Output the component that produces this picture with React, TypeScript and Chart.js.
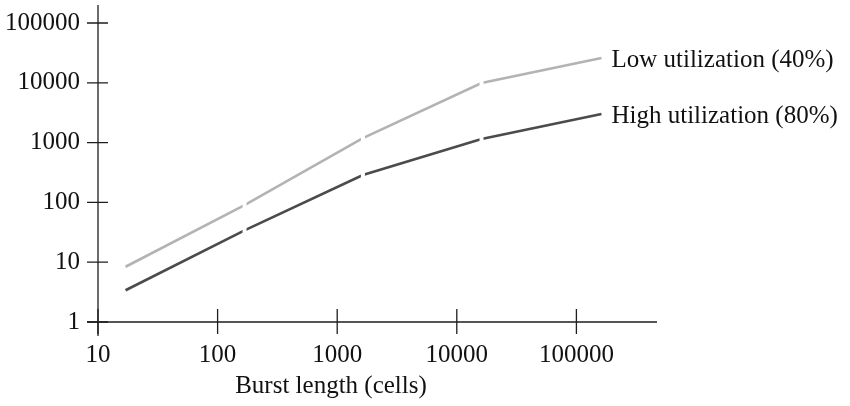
import React, { useEffect, useRef } from "react";
import { Chart, registerables } from "chart.js";

Chart.register(...registerables);

const burstLengths = [17, 168, 1640, 16100, 162000];
const lowUtilization = [8.4, 90, 1190, 9900, 26000];
const highUtilization = [3.4, 34, 287, 1150, 3000];
const xTicks = [10, 100, 1000, 10000, 100000];
const yTicks = [1, 10, 100, 1000, 10000, 100000];
const seriesLabels = ["Low utilization (40%)", "High utilization (80%)"];
const xTitle = "Burst length (cells)";

const FONT = '"Liberation Serif", "Times New Roman", serif';
const FONT_SIZE = 25;
const TEXT = "#111111";
const AXIS = "#1e1e1e";
const LOW_COLOR = "#b3b3b3";
const HIGH_COLOR = "#4b4b4b";

const decorPlugin = {
  id: "decor",
  afterDraw(chart: any) {
    const { ctx, chartArea, scales } = chart;
    const xs = scales.x;
    const ys = scales.y;
    const left = chartArea.left;
    const bottom = chartArea.bottom;
    ctx.save();
    ctx.strokeStyle = AXIS;
    ctx.lineWidth = 1.3;
    // axis lines
    ctx.beginPath();
    ctx.moveTo(left, chartArea.top);
    ctx.lineTo(left, bottom + 14);
    ctx.moveTo(left - 11, bottom);
    ctx.lineTo(chartArea.right, bottom);
    ctx.stroke();
    // y ticks (crossing)
    ctx.beginPath();
    yTicks.forEach((v) => {
      const py = ys.getPixelForValue(v);
      ctx.moveTo(left - 11, py);
      ctx.lineTo(left + 10, py);
    });
    // x ticks (crossing)
    xTicks.forEach((v) => {
      const px = xs.getPixelForValue(v);
      ctx.moveTo(px, bottom - 13);
      ctx.lineTo(px, bottom + 12);
    });
    ctx.stroke();

    // x title
    ctx.fillStyle = TEXT;
    ctx.font = `${FONT_SIZE}px ${FONT}`;
    ctx.textAlign = "center";
    ctx.textBaseline = "middle";
    ctx.fillText(xTitle, left + 233, bottom + 64);

    // series end labels
    ctx.textAlign = "left";
    chart.data.datasets.forEach((ds: any, i: number) => {
      const meta = chart.getDatasetMeta(i);
      const pt = meta.data[meta.data.length - 1];
      ctx.fillText(seriesLabels[i], pt.x + 10, pt.y + 2);
    });
    ctx.restore();
  },
};

export default function App() {
  const ref = useRef<HTMLCanvasElement | null>(null);

  useEffect(() => {
    document.body.style.margin = "0";
    const canvas = ref.current;
    if (!canvas) return;
    const cut = [0, 4, 4, 4, 0];
    const chart = new Chart(canvas, {
      type: "line",
      data: {
        datasets: [
          {
            label: seriesLabels[0],
            data: burstLengths.map((x, i) => ({ x, y: lowUtilization[i] })),
            borderColor: LOW_COLOR,
            borderWidth: 2.6,
            pointStyle: "line",
            pointRotation: 90,
            pointRadius: cut,
            pointBorderColor: "#ffffff",
            pointBackgroundColor: "#ffffff",
            pointBorderWidth: 4,
            tension: 0,
          },
          {
            label: seriesLabels[1],
            data: burstLengths.map((x, i) => ({ x, y: highUtilization[i] })),
            borderColor: HIGH_COLOR,
            borderWidth: 2.6,
            pointStyle: "line",
            pointRotation: 90,
            pointRadius: cut,
            pointBorderColor: "#ffffff",
            pointBackgroundColor: "#ffffff",
            pointBorderWidth: 4,
            tension: 0,
          },
        ],
      },
      options: {
        responsive: false,
        animation: false,
        devicePixelRatio: 1,
        layout: { padding: { top: 5, right: 193, left: 0, bottom: 0 } },
        plugins: {
          legend: { display: false },
          tooltip: { enabled: false },
        },
        scales: {
          x: {
            type: "logarithmic",
            min: 10,
            max: 472000,
            grid: { display: false, drawTicks: false, tickLength: 0 },
            border: { display: false },
            afterBuildTicks: (axis: any) => {
              axis.ticks = xTicks.map((v) => ({ value: v }));
            },
            afterFit: (scale: any) => {
              scale.height = 84;
              scale.paddingLeft = 0;
              scale.paddingRight = 0;
            },
            ticks: {
              autoSkip: false,
              maxRotation: 0,
              padding: 18,
              color: TEXT,
              font: { family: FONT, size: FONT_SIZE },
              callback: (v: any) => String(v),
            },
          },
          y: {
            type: "logarithmic",
            min: 1,
            max: 200000,
            grid: { display: false, drawTicks: false, tickLength: 0 },
            border: { display: false },
            afterBuildTicks: (axis: any) => {
              axis.ticks = yTicks.map((v) => ({ value: v }));
            },
            afterFit: (scale: any) => {
              scale.width = 98;
              scale.paddingTop = 0;
              scale.paddingBottom = 0;
            },
            ticks: {
              autoSkip: false,
              padding: 18,
              color: TEXT,
              font: { family: FONT, size: FONT_SIZE },
              callback: (v: any) => String(v),
            },
          },
        },
      },
      plugins: [decorPlugin],
    } as any);
    return () => chart.destroy();
  }, []);

  return (
    <div style={{ width: 850, height: 406, background: "#ffffff" }}>
      <canvas ref={ref} width={850} height={406} style={{ width: 850, height: 406, display: "block" }} />
    </div>
  );
}
